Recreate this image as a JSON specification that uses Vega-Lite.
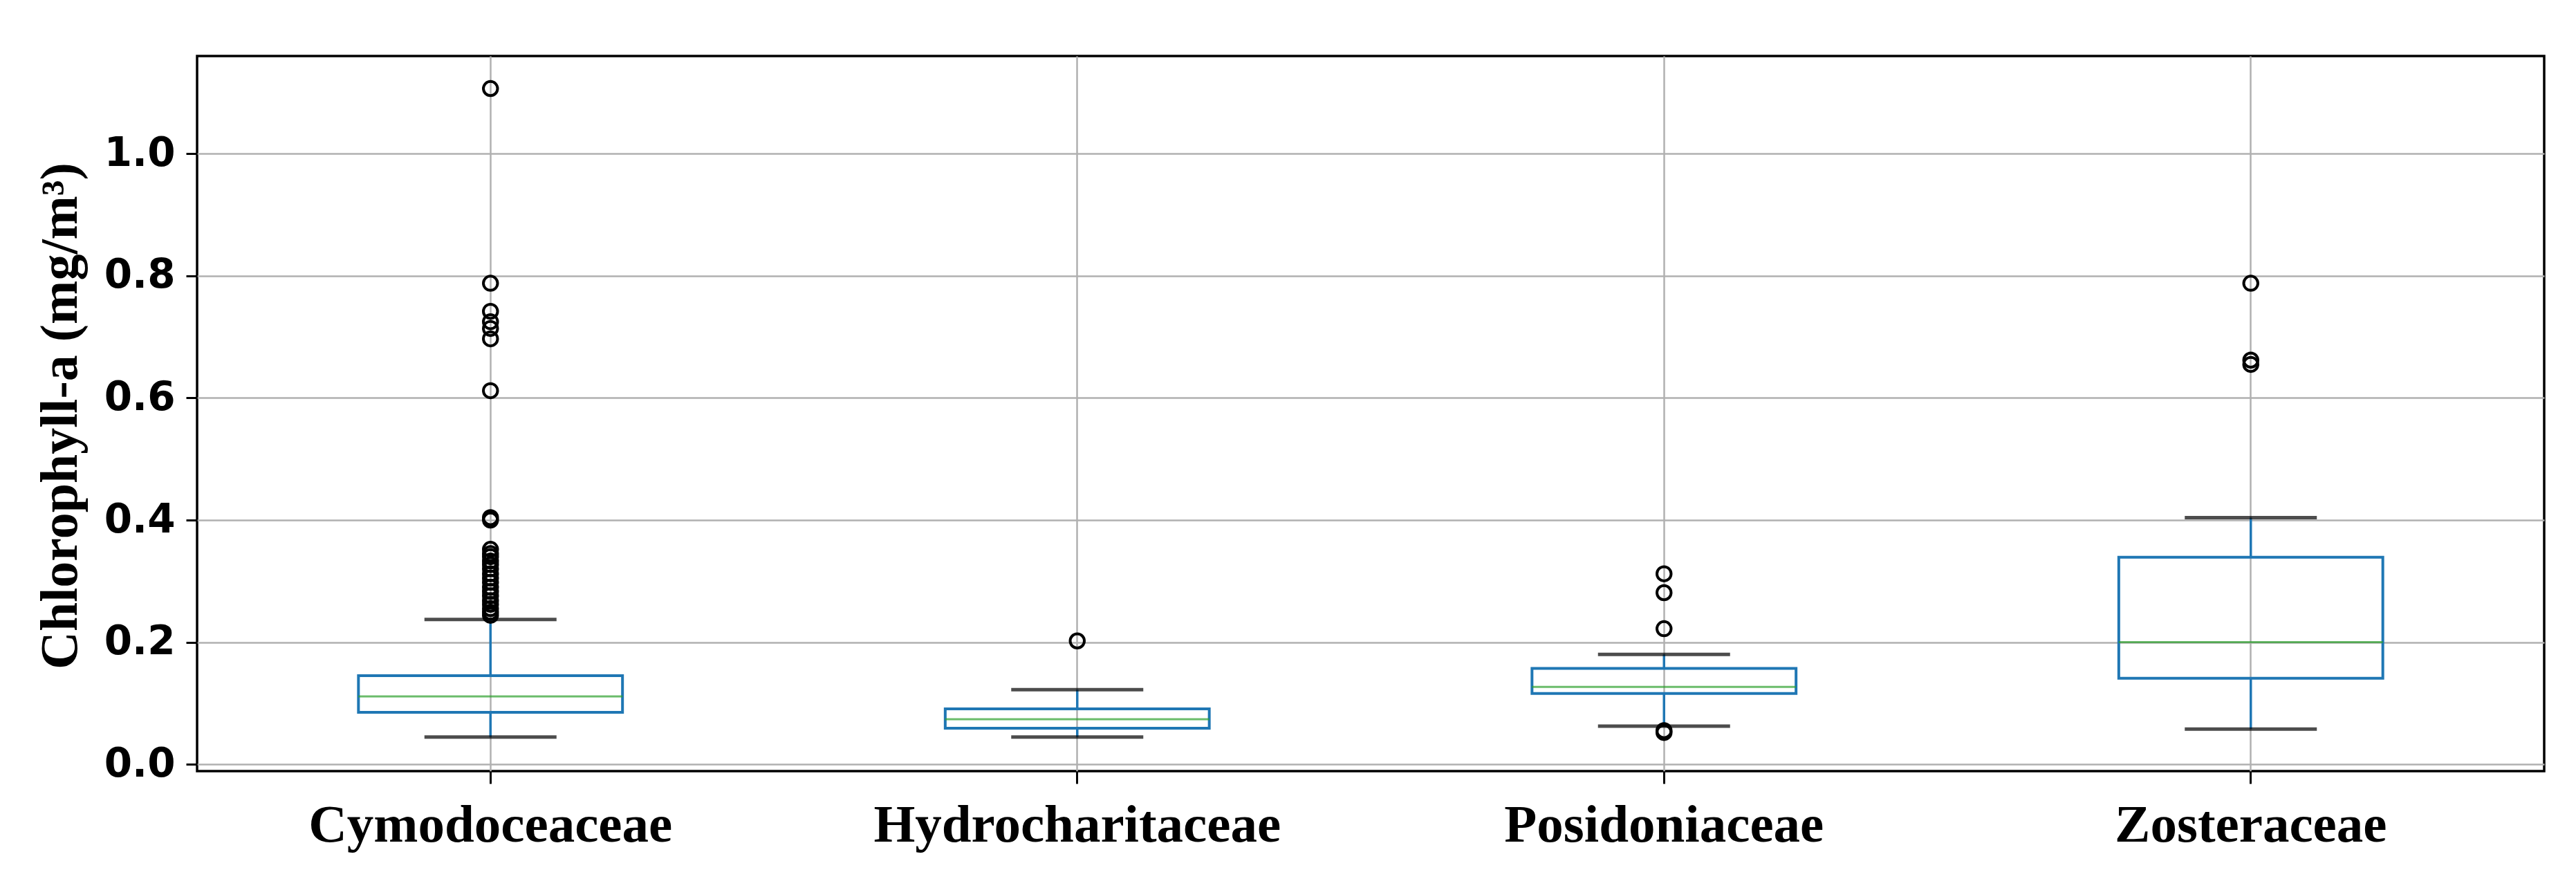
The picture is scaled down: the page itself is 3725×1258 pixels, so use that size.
{
  "$schema": "https://vega.github.io/schema/vega-lite/v6.json",
  "width": 3394,
  "height": 1034,
  "autosize": {"type": "none"},
  "padding": {"left": 285, "top": 81, "right": 46, "bottom": 143},
  "background": "white",
  "config": {
    "view": {"stroke": "black", "strokeWidth": 3.5},
    "axis": {
      "grid": true,
      "gridColor": "#b0b0b0",
      "gridWidth": 2.5,
      "domain": false,
      "tickColor": "black",
      "tickWidth": 3,
      "labelColor": "black",
      "titleColor": "black",
      "labelLimit": 0
    }
  },
  "datasets": {
    "stats": [
      {"family": "Cymodoceaceae", "lower": 0.0445, "q1": 0.085, "median": 0.111, "q3": 0.145, "upper": 0.237},
      {"family": "Hydrocharitaceae", "lower": 0.0445, "q1": 0.059, "median": 0.0737, "q3": 0.0907, "upper": 0.122},
      {"family": "Posidoniaceae", "lower": 0.0623, "q1": 0.116, "median": 0.1266, "q3": 0.157, "upper": 0.18},
      {"family": "Zosteraceae", "lower": 0.0576, "q1": 0.1407, "median": 0.2, "q3": 0.339, "upper": 0.404}
    ],
    "outliers": [
      {"family": "Cymodoceaceae", "value": 1.107},
      {"family": "Cymodoceaceae", "value": 0.788},
      {"family": "Cymodoceaceae", "value": 0.742},
      {"family": "Cymodoceaceae", "value": 0.725},
      {"family": "Cymodoceaceae", "value": 0.714},
      {"family": "Cymodoceaceae", "value": 0.697},
      {"family": "Cymodoceaceae", "value": 0.612},
      {"family": "Cymodoceaceae", "value": 0.404},
      {"family": "Cymodoceaceae", "value": 0.4},
      {"family": "Cymodoceaceae", "value": 0.352},
      {"family": "Cymodoceaceae", "value": 0.345},
      {"family": "Cymodoceaceae", "value": 0.34},
      {"family": "Cymodoceaceae", "value": 0.333},
      {"family": "Cymodoceaceae", "value": 0.327},
      {"family": "Cymodoceaceae", "value": 0.32},
      {"family": "Cymodoceaceae", "value": 0.312},
      {"family": "Cymodoceaceae", "value": 0.305},
      {"family": "Cymodoceaceae", "value": 0.298},
      {"family": "Cymodoceaceae", "value": 0.29},
      {"family": "Cymodoceaceae", "value": 0.283},
      {"family": "Cymodoceaceae", "value": 0.276},
      {"family": "Cymodoceaceae", "value": 0.268},
      {"family": "Cymodoceaceae", "value": 0.262},
      {"family": "Cymodoceaceae", "value": 0.255},
      {"family": "Cymodoceaceae", "value": 0.249},
      {"family": "Cymodoceaceae", "value": 0.244},
      {"family": "Hydrocharitaceae", "value": 0.202},
      {"family": "Posidoniaceae", "value": 0.312},
      {"family": "Posidoniaceae", "value": 0.281},
      {"family": "Posidoniaceae", "value": 0.222},
      {"family": "Posidoniaceae", "value": 0.055},
      {"family": "Posidoniaceae", "value": 0.052},
      {"family": "Zosteraceae", "value": 0.788},
      {"family": "Zosteraceae", "value": 0.662},
      {"family": "Zosteraceae", "value": 0.655}
    ]
  },
  "encoding": {
    "x": {
      "field": "family",
      "type": "nominal",
      "sort": ["Cymodoceaceae", "Hydrocharitaceae", "Posidoniaceae", "Zosteraceae"],
      "scale": {"paddingInner": 0.55, "paddingOuter": 0.275},
      "axis": {
        "title": null,
        "labelAngle": 0,
        "bandPosition": 0.5,
        "labelFont": "Liberation Serif",
        "labelFontSize": 77,
        "labelFontWeight": "bold",
        "labelPadding": 22,
        "labelLimit": 0,
        "tickSize": 18
      }
    }
  },
  "layer": [
    {
      "data": {"name": "stats"},
      "mark": {"type": "rule", "color": "#1f77b4", "strokeWidth": 3.5},
      "encoding": {
        "y": {
          "field": "lower", "type": "quantitative",
          "scale": {"domain": [-0.0113, 1.1603], "nice": false, "zero": false},
          "axis": {
            "values": [0, 0.2, 0.4, 0.6, 0.8, 1.0],
            "format": ".1f",
            "title": "Chlorophyll-a (mg/m³)",
            "labelFont": "DejaVu Sans",
            "labelFontSize": 58,
            "labelFontWeight": "bold",
            "labelPadding": 16,
            "tickSize": 16,
            "titleFont": "Liberation Serif",
            "titleFontSize": 76,
            "titleFontWeight": "bold",
            "titleAngle": 270,
            "titleX": -175,
            "titleY": 520,
            "titleAlign": "center",
            "titleBaseline": "alphabetic"
          }
        },
        "y2": {"field": "q1"}
      }
    },
    {
      "data": {"name": "stats"},
      "mark": {"type": "rule", "color": "#1f77b4", "strokeWidth": 3.5},
      "encoding": {
        "y": {
          "field": "q3", "type": "quantitative",
          "scale": {"domain": [-0.0113, 1.1603], "nice": false, "zero": false},
          "axis": {
            "values": [0, 0.2, 0.4, 0.6, 0.8, 1.0],
            "format": ".1f",
            "title": "Chlorophyll-a (mg/m³)",
            "labelFont": "DejaVu Sans",
            "labelFontSize": 58,
            "labelFontWeight": "bold",
            "labelPadding": 16,
            "tickSize": 16,
            "titleFont": "Liberation Serif",
            "titleFontSize": 76,
            "titleFontWeight": "bold",
            "titleAngle": 270,
            "titleX": -175,
            "titleY": 520,
            "titleAlign": "center",
            "titleBaseline": "alphabetic"
          }
        },
        "y2": {"field": "upper"}
      }
    },
    {
      "data": {"name": "stats"},
      "mark": {"type": "bar", "fillOpacity": 0, "stroke": "#1f77b4", "strokeWidth": 4},
      "encoding": {
        "y": {
          "field": "q1", "type": "quantitative",
          "scale": {"domain": [-0.0113, 1.1603], "nice": false, "zero": false},
          "axis": {
            "values": [0, 0.2, 0.4, 0.6, 0.8, 1.0],
            "format": ".1f",
            "title": "Chlorophyll-a (mg/m³)",
            "labelFont": "DejaVu Sans",
            "labelFontSize": 58,
            "labelFontWeight": "bold",
            "labelPadding": 16,
            "tickSize": 16,
            "titleFont": "Liberation Serif",
            "titleFontSize": 76,
            "titleFontWeight": "bold",
            "titleAngle": 270,
            "titleX": -175,
            "titleY": 520,
            "titleAlign": "center",
            "titleBaseline": "alphabetic"
          }
        },
        "y2": {"field": "q3"}
      }
    },
    {
      "data": {"name": "stats"},
      "mark": {"type": "tick", "color": "#2ca02c", "size": 382, "thickness": 3},
      "encoding": {
        "y": {
          "field": "median", "type": "quantitative",
          "scale": {"domain": [-0.0113, 1.1603], "nice": false, "zero": false},
          "axis": {
            "values": [0, 0.2, 0.4, 0.6, 0.8, 1.0],
            "format": ".1f",
            "title": "Chlorophyll-a (mg/m³)",
            "labelFont": "DejaVu Sans",
            "labelFontSize": 58,
            "labelFontWeight": "bold",
            "labelPadding": 16,
            "tickSize": 16,
            "titleFont": "Liberation Serif",
            "titleFontSize": 76,
            "titleFontWeight": "bold",
            "titleAngle": 270,
            "titleX": -175,
            "titleY": 520,
            "titleAlign": "center",
            "titleBaseline": "alphabetic"
          }
        }
      }
    },
    {
      "data": {"name": "stats"},
      "mark": {"type": "tick", "color": "black", "size": 191, "thickness": 5},
      "encoding": {
        "y": {
          "field": "lower", "type": "quantitative",
          "scale": {"domain": [-0.0113, 1.1603], "nice": false, "zero": false},
          "axis": {
            "values": [0, 0.2, 0.4, 0.6, 0.8, 1.0],
            "format": ".1f",
            "title": "Chlorophyll-a (mg/m³)",
            "labelFont": "DejaVu Sans",
            "labelFontSize": 58,
            "labelFontWeight": "bold",
            "labelPadding": 16,
            "tickSize": 16,
            "titleFont": "Liberation Serif",
            "titleFontSize": 76,
            "titleFontWeight": "bold",
            "titleAngle": 270,
            "titleX": -175,
            "titleY": 520,
            "titleAlign": "center",
            "titleBaseline": "alphabetic"
          }
        }
      }
    },
    {
      "data": {"name": "stats"},
      "mark": {"type": "tick", "color": "black", "size": 191, "thickness": 5},
      "encoding": {
        "y": {
          "field": "upper", "type": "quantitative",
          "scale": {"domain": [-0.0113, 1.1603], "nice": false, "zero": false},
          "axis": {
            "values": [0, 0.2, 0.4, 0.6, 0.8, 1.0],
            "format": ".1f",
            "title": "Chlorophyll-a (mg/m³)",
            "labelFont": "DejaVu Sans",
            "labelFontSize": 58,
            "labelFontWeight": "bold",
            "labelPadding": 16,
            "tickSize": 16,
            "titleFont": "Liberation Serif",
            "titleFontSize": 76,
            "titleFontWeight": "bold",
            "titleAngle": 270,
            "titleX": -175,
            "titleY": 520,
            "titleAlign": "center",
            "titleBaseline": "alphabetic"
          }
        }
      }
    },
    {
      "data": {"name": "outliers"},
      "mark": {"type": "point", "shape": "circle", "filled": false, "stroke": "black", "strokeWidth": 4, "size": 420, "opacity": 1},
      "encoding": {
        "y": {
          "field": "value", "type": "quantitative",
          "scale": {"domain": [-0.0113, 1.1603], "nice": false, "zero": false},
          "axis": {
            "values": [0, 0.2, 0.4, 0.6, 0.8, 1.0],
            "format": ".1f",
            "title": "Chlorophyll-a (mg/m³)",
            "labelFont": "DejaVu Sans",
            "labelFontSize": 58,
            "labelFontWeight": "bold",
            "labelPadding": 16,
            "tickSize": 16,
            "titleFont": "Liberation Serif",
            "titleFontSize": 76,
            "titleFontWeight": "bold",
            "titleAngle": 270,
            "titleX": -175,
            "titleY": 520,
            "titleAlign": "center",
            "titleBaseline": "alphabetic"
          }
        }
      }
    }
  ]
}
